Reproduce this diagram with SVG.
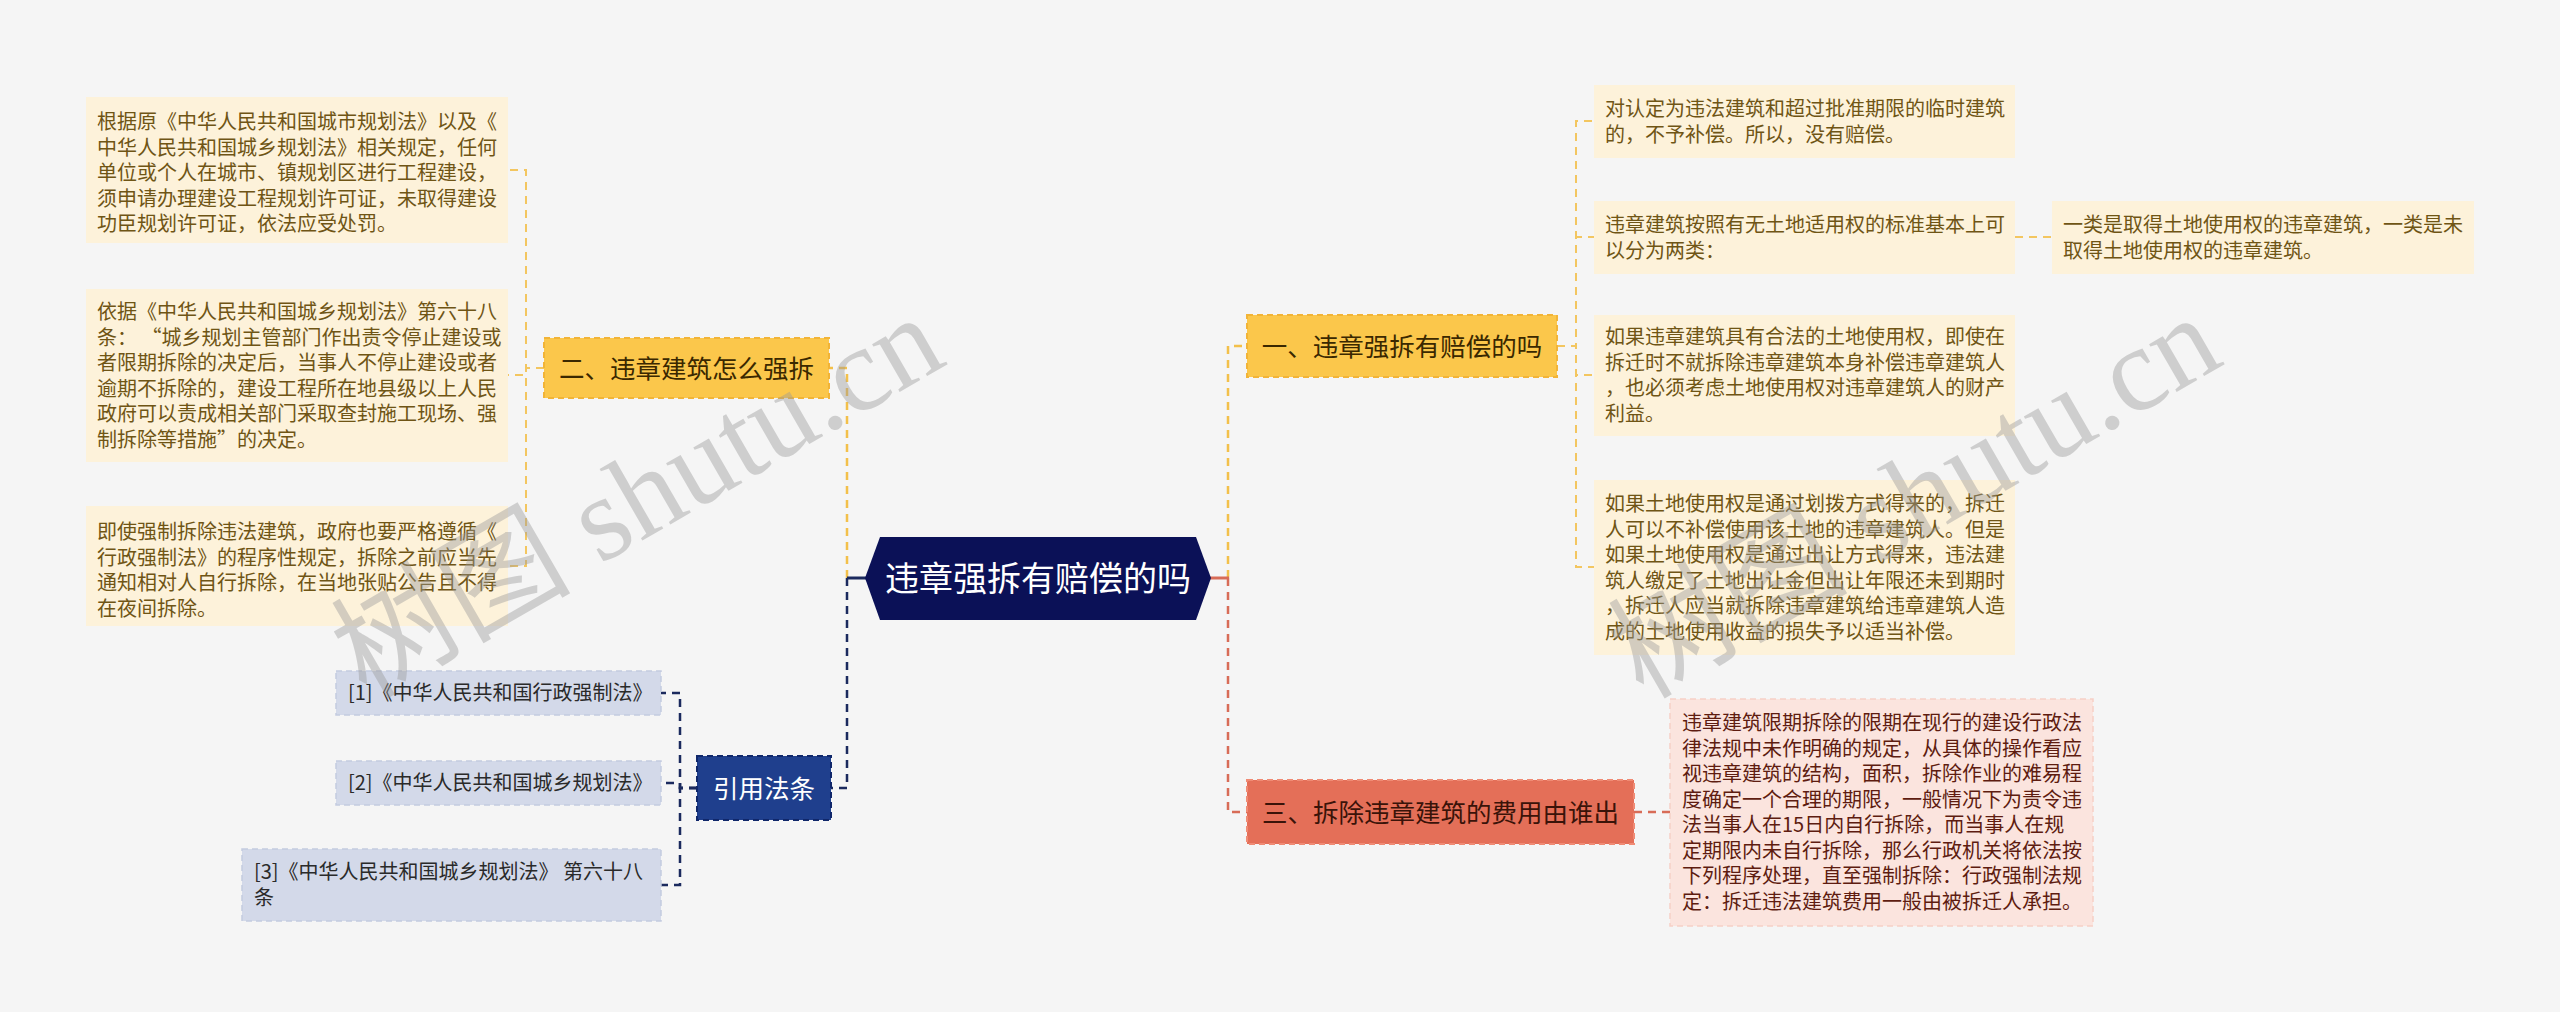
<svg xmlns="http://www.w3.org/2000/svg" width="2560" height="1012" viewBox="0 0 2560 1012">
<style>
text{font-family:"Noto Sans CJK SC","Noto Sans",sans-serif}
.leaf{fill:#fdf2da}
.lt{font-size:20px;fill:#6f5515}
.ybr{fill:#fbc74b;stroke:#f2b437;stroke-width:2;stroke-dasharray:6 4}
.ybt{font-size:25.5px;fill:#3a2800;text-anchor:middle}
.rbr{fill:#e46f58;stroke:#f08b75;stroke-width:2;stroke-dasharray:6 4}
.rbt{font-size:25.5px;fill:#3a1309;text-anchor:middle}
.pink{fill:#fbe4de;stroke:#f6cfc6;stroke-width:1.5;stroke-dasharray:6 4}
.pt{font-size:20px;fill:#5e1c10}
.ref{fill:#d3d9e9;stroke:#c4cbe0;stroke-width:1.5;stroke-dasharray:6 4}
.rt{font-size:20px;fill:#2a2a2a}
.cite{fill:#1f3f8d;stroke:#10276a;stroke-width:2;stroke-dasharray:6 4}
.ct{font-size:25.5px;fill:#ffffff;text-anchor:middle}
.c{fill:none;stroke-width:2.5;stroke-dasharray:8 6}
.cy{stroke:#f3c04a}
.cyl{stroke:#f3c660;stroke-width:2}
.cr{stroke:#d86c57}
.cn{stroke:#1b2a5e}
.wm{fill:#9a9a9a;opacity:0.42;font-size:120px}
</style>
<rect width="2560" height="1012" fill="#f5f5f5"/>
<g id="connectors">
  <path class="c cn" d="M847 578 V788 H831"/>
  <path class="c cy" d="M847 578 V368 H829"/>
  <line x1="847" y1="578" x2="866" y2="578" stroke="#1b2a5e" stroke-width="3"/>
  <path class="c cy" d="M1228 578 V346 H1247"/>
  <path class="c cr" d="M1228 578 V812 H1247"/>
  <line x1="1210" y1="578" x2="1229" y2="578" stroke="#d86c57" stroke-width="3"/>
  <path class="c cyl" d="M544 368 H526 V170 H508"/>
  <path class="c cyl" d="M544 368 H526 V375 H508"/>
  <path class="c cyl" d="M544 368 H526 V566 H508"/>
  <path class="c cyl" d="M1557 346 H1576 V121 H1594"/>
  <path class="c cyl" d="M1557 346 H1576 V237 H1594"/>
  <path class="c cyl" d="M1557 346 H1576 V375 H1594"/>
  <path class="c cyl" d="M1557 346 H1576 V567 H1594"/>
  <path class="c cyl" d="M2015 237 H2052"/>
  <path class="c cr" stroke-width="2" d="M1634 812 H1670"/>
  <path class="c cn" stroke-width="2" d="M697 788 H680 V693 H661"/>
  <path class="c cn" stroke-width="2" d="M697 788 H680 V783 H661"/>
  <path class="c cn" stroke-width="2" d="M697 788 H680 V885 H661"/>
</g>
<g id="root">
  <polygon points="865,578 880,537 1196,537 1211,578 1196,620 880,620" fill="#0b1157"/>
  <text x="1038" y="591" font-size="34" fill="#ffffff" text-anchor="middle">违章强拆有赔偿的吗</text>
</g>
<g id="n2">
  <rect class="ybr" x="544" y="338" width="285" height="60"/>
  <text class="ybt" x="686.5" y="377.5">二、违章建筑怎么强拆</text>
</g>
<g id="n2a">
  <rect class="leaf" x="86" y="97" width="422" height="146"/>
  <text class="lt" x="97" y="129"><tspan x="97">根据原《中华人民共和国城市规划法》以及《</tspan><tspan x="97" dy="25.5">中华人民共和国城乡规划法》相关规定，任何</tspan><tspan x="97" dy="25.5">单位或个人在城市、镇规划区进行工程建设，</tspan><tspan x="97" dy="25.5">须申请办理建设工程规划许可证，未取得建设</tspan><tspan x="97" dy="25.5">功臣规划许可证，依法应受处罚。</tspan></text>
</g>
<g id="n2b">
  <rect class="leaf" x="86" y="289" width="422" height="173"/>
  <text class="lt" x="97" y="319" xml:space="preserve"><tspan x="97">依据《中华人民共和国城乡规划法》第六十八</tspan><tspan x="97" dy="25.5">条： “城乡规划主管部门作出责令停止建设或</tspan><tspan x="97" dy="25.5">者限期拆除的决定后，当事人不停止建设或者</tspan><tspan x="97" dy="25.5">逾期不拆除的，建设工程所在地县级以上人民</tspan><tspan x="97" dy="25.5">政府可以责成相关部门采取查封施工现场、强</tspan><tspan x="97" dy="25.5">制拆除等措施”的决定。</tspan></text>
</g>
<g id="n2c">
  <rect class="leaf" x="86" y="506" width="422" height="120"/>
  <text class="lt" x="97" y="539"><tspan x="97">即使强制拆除违法建筑，政府也要严格遵循《</tspan><tspan x="97" dy="25.5">行政强制法》的程序性规定，拆除之前应当先</tspan><tspan x="97" dy="25.5">通知相对人自行拆除，在当地张贴公告且不得</tspan><tspan x="97" dy="25.5">在夜间拆除。</tspan></text>
</g>
<g id="cite">
  <rect class="cite" x="697" y="756" width="134" height="64"/>
  <text class="ct" x="764" y="797.5">引用法条</text>
</g>
<g id="ref1">
  <rect class="ref" x="336" y="671" width="325" height="44"/>
  <text class="rt" x="348" y="700">[1]《中华人民共和国行政强制法》</text>
</g>
<g id="ref2">
  <rect class="ref" x="336" y="761" width="325" height="44"/>
  <text class="rt" x="348" y="790">[2]《中华人民共和国城乡规划法》</text>
</g>
<g id="ref3">
  <rect class="ref" x="242" y="849" width="419" height="72"/>
  <text class="rt" x="254" y="879"><tspan x="254">[3]《中华人民共和国城乡规划法》 第六十八</tspan><tspan x="254" dy="25.5">条</tspan></text>
</g>
<g id="n1">
  <rect class="ybr" x="1247" y="315" width="310" height="62"/>
  <text class="ybt" x="1402" y="355.5">一、违章强拆有赔偿的吗</text>
</g>
<g id="n1a">
  <rect class="leaf" x="1594" y="85" width="421" height="73"/>
  <text class="lt" x="1605" y="116"><tspan x="1605">对认定为违法建筑和超过批准期限的临时建筑</tspan><tspan x="1605" dy="25.5">的，不予补偿。所以，没有赔偿。</tspan></text>
</g>
<g id="n1b">
  <rect class="leaf" x="1594" y="201" width="421" height="73"/>
  <text class="lt" x="1605" y="232"><tspan x="1605">违章建筑按照有无土地适用权的标准基本上可</tspan><tspan x="1605" dy="25.5">以分为两类：</tspan></text>
</g>
<g id="n1b1">
  <rect class="leaf" x="2052" y="201" width="422" height="73"/>
  <text class="lt" x="2063" y="232"><tspan x="2063">一类是取得土地使用权的违章建筑，一类是未</tspan><tspan x="2063" dy="25.5">取得土地使用权的违章建筑。</tspan></text>
</g>
<g id="n1c">
  <rect class="leaf" x="1594" y="315" width="421" height="121"/>
  <text class="lt" x="1605" y="344"><tspan x="1605">如果违章建筑具有合法的土地使用权，即使在</tspan><tspan x="1605" dy="25.5">拆迁时不就拆除违章建筑本身补偿违章建筑人</tspan><tspan x="1605" dy="25.5">，也必须考虑土地使用权对违章建筑人的财产</tspan><tspan x="1605" dy="25.5">利益。</tspan></text>
</g>
<g id="n1d">
  <rect class="leaf" x="1594" y="480" width="421" height="175"/>
  <text class="lt" x="1605" y="511"><tspan x="1605">如果土地使用权是通过划拨方式得来的，拆迁</tspan><tspan x="1605" dy="25.5">人可以不补偿使用该土地的违章建筑人。但是</tspan><tspan x="1605" dy="25.5">如果土地使用权是通过出让方式得来，违法建</tspan><tspan x="1605" dy="25.5">筑人缴足了土地出让金但出让年限还未到期时</tspan><tspan x="1605" dy="25.5">，拆迁人应当就拆除违章建筑给违章建筑人造</tspan><tspan x="1605" dy="25.5">成的土地使用收益的损失予以适当补偿。</tspan></text>
</g>
<g id="n3">
  <rect class="rbr" x="1247" y="780" width="387" height="64"/>
  <text class="rbt" x="1440.5" y="821.5">三、拆除违章建筑的费用由谁出</text>
</g>
<g id="n3a">
  <rect class="pink" x="1670" y="699" width="423" height="227"/>
  <text class="pt" x="1682" y="730"><tspan x="1682">违章建筑限期拆除的限期在现行的建设行政法</tspan><tspan x="1682" dy="25.5">律法规中未作明确的规定，从具体的操作看应</tspan><tspan x="1682" dy="25.5">视违章建筑的结构，面积，拆除作业的难易程</tspan><tspan x="1682" dy="25.5">度确定一个合理的期限，一般情况下为责令违</tspan><tspan x="1682" dy="25.5">法当事人在15日内自行拆除，而当事人在规</tspan><tspan x="1682" dy="25.5">定期限内未自行拆除，那么行政机关将依法按</tspan><tspan x="1682" dy="25.5">下列程序处理，直至强制拆除：行政强制法规</tspan><tspan x="1682" dy="25.5">定：拆迁违法建筑费用一般由被拆迁人承担。</tspan></text>
</g>
<g id="watermark">
  <text class="wm" transform="translate(366,700) rotate(-30)" style="font-family:'Liberation Serif','Noto Sans CJK SC',serif">树图 shutu.cn</text>
  <text class="wm" transform="translate(1643,700) rotate(-30)" style="font-family:'Liberation Serif','Noto Sans CJK SC',serif">树图 shutu.cn</text>
</g>
</svg>
